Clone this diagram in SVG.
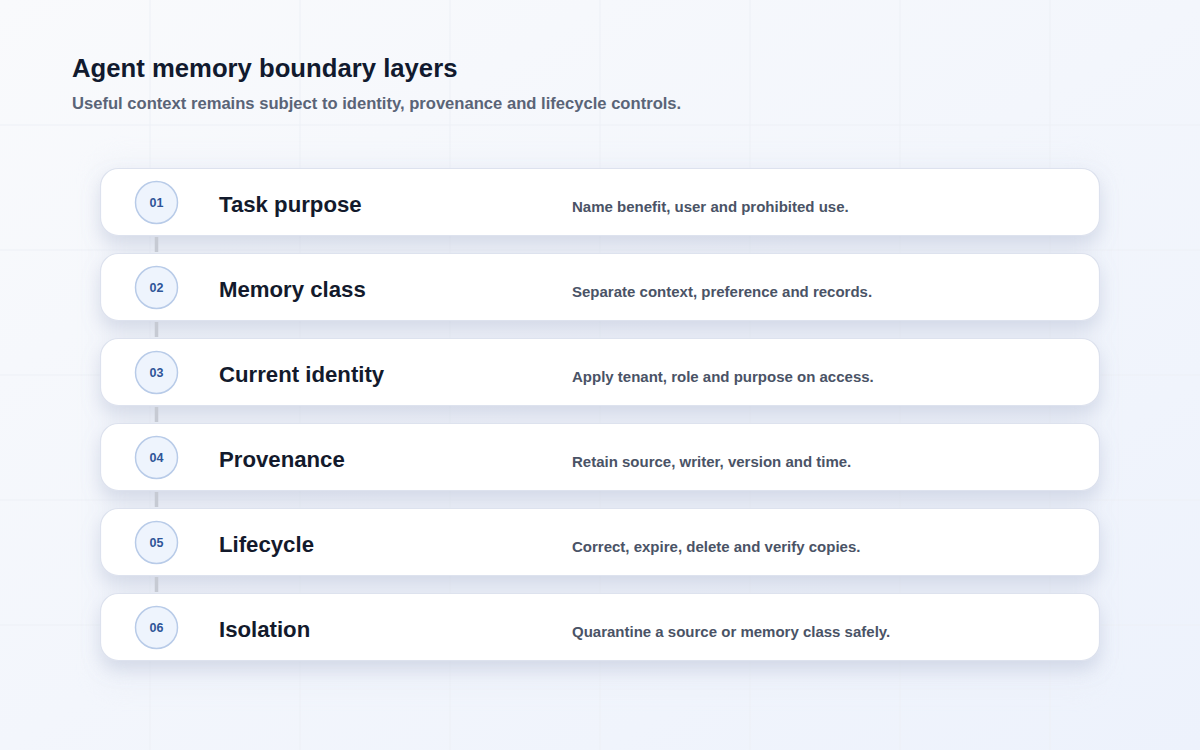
<svg xmlns="http://www.w3.org/2000/svg" width="1200" height="750" viewBox="0 0 1200 750">
<defs>
<linearGradient id="bg" x1="0" y1="0" x2="1" y2="1">
<stop offset="0" stop-color="#f9fafc"/>
<stop offset="1" stop-color="#edf2fc"/>
</linearGradient>
<filter id="sh" x="-10%" y="-40%" width="120%" height="200%">
<feDropShadow dx="0" dy="9" stdDeviation="9" flood-color="#8e9bbb" flood-opacity="0.28"/>
</filter>
<filter id="panelsh" x="-10%" y="-10%" width="120%" height="120%">
<feGaussianBlur stdDeviation="14"/>
</filter>
</defs>
<style>
.grid{stroke:#edf0f6;stroke-width:1;fill:none}
.card{fill:#ffffff;stroke:#dde2ee;stroke-width:1.2}
.badge{fill:#eef4fd;stroke:#b8cbe8;stroke-width:1.5}
.num{font-family:"Liberation Sans",Arial,sans-serif;font-size:12.5px;font-weight:700;fill:#2f5598;text-anchor:middle}
.ttl{font-family:"Liberation Sans",Arial,sans-serif;font-size:22.2px;font-weight:700;fill:#131a2c}
.desc{font-family:"Liberation Sans",Arial,sans-serif;font-size:15px;font-weight:700;fill:#4a5366}
.link{stroke:#c6cad3;stroke-width:3.5}
</style>
<rect width="1200" height="750" fill="url(#bg)"/>
<g id="grid">
<path class="grid" d="M150 0V750M300 0V750M450 0V750M600 0V750M750 0V750M900 0V750M1050 0V750M0 125H1200M0 250H1200M0 375H1200M0 500H1200M0 625H1200"/>
</g>
<rect x="100" y="160" width="1000" height="528" rx="10" fill="#e9edf6" opacity="0.45" filter="url(#panelsh)"/>
<g id="header">
<text x="72" y="77" font-family="'Liberation Sans',Arial,sans-serif" font-size="25.7" font-weight="700" fill="#111a2e">Agent memory boundary layers</text>
<text x="72" y="109" font-family="'Liberation Sans',Arial,sans-serif" font-size="16.6" font-weight="700" fill="#5a6477">Useful context remains subject to identity, provenance and lifecycle controls.</text>
</g>
<g id="cards-shadow" filter="url(#sh)">
<rect class="card" x="100.5" y="168.5" width="999" height="67" rx="18"/>
<rect class="card" x="100.5" y="253.5" width="999" height="67" rx="18"/>
<rect class="card" x="100.5" y="338.5" width="999" height="67" rx="18"/>
<rect class="card" x="100.5" y="423.5" width="999" height="67" rx="18"/>
<rect class="card" x="100.5" y="508.5" width="999" height="67" rx="18"/>
<rect class="card" x="100.5" y="593.5" width="999" height="67" rx="18"/>
</g>
<g id="connectors">
<line class="link" x1="156.5" y1="237" x2="156.5" y2="252"/>
<line class="link" x1="156.5" y1="322" x2="156.5" y2="337"/>
<line class="link" x1="156.5" y1="407" x2="156.5" y2="422"/>
<line class="link" x1="156.5" y1="492" x2="156.5" y2="507"/>
<line class="link" x1="156.5" y1="577" x2="156.5" y2="592"/>
</g>
<g id="n1">
<circle class="badge" cx="156.5" cy="202.5" r="21"/>
<text class="num" x="156.5" y="207">01</text>
<text class="ttl" x="219" y="212">Task purpose</text>
<text class="desc" x="572" y="212">Name benefit, user and prohibited use.</text>
</g>
<g id="n2">
<circle class="badge" cx="156.5" cy="287.5" r="21"/>
<text class="num" x="156.5" y="292">02</text>
<text class="ttl" x="219" y="297">Memory class</text>
<text class="desc" x="572" y="297">Separate context, preference and records.</text>
</g>
<g id="n3">
<circle class="badge" cx="156.5" cy="372.5" r="21"/>
<text class="num" x="156.5" y="377">03</text>
<text class="ttl" x="219" y="382">Current identity</text>
<text class="desc" x="572" y="382">Apply tenant, role and purpose on access.</text>
</g>
<g id="n4">
<circle class="badge" cx="156.5" cy="457.5" r="21"/>
<text class="num" x="156.5" y="462">04</text>
<text class="ttl" x="219" y="467">Provenance</text>
<text class="desc" x="572" y="467">Retain source, writer, version and time.</text>
</g>
<g id="n5">
<circle class="badge" cx="156.5" cy="542.5" r="21"/>
<text class="num" x="156.5" y="547">05</text>
<text class="ttl" x="219" y="552">Lifecycle</text>
<text class="desc" x="572" y="552">Correct, expire, delete and verify copies.</text>
</g>
<g id="n6">
<circle class="badge" cx="156.5" cy="627.5" r="21"/>
<text class="num" x="156.5" y="632">06</text>
<text class="ttl" x="219" y="637">Isolation</text>
<text class="desc" x="572" y="637">Quarantine a source or memory class safely.</text>
</g>
</svg>
